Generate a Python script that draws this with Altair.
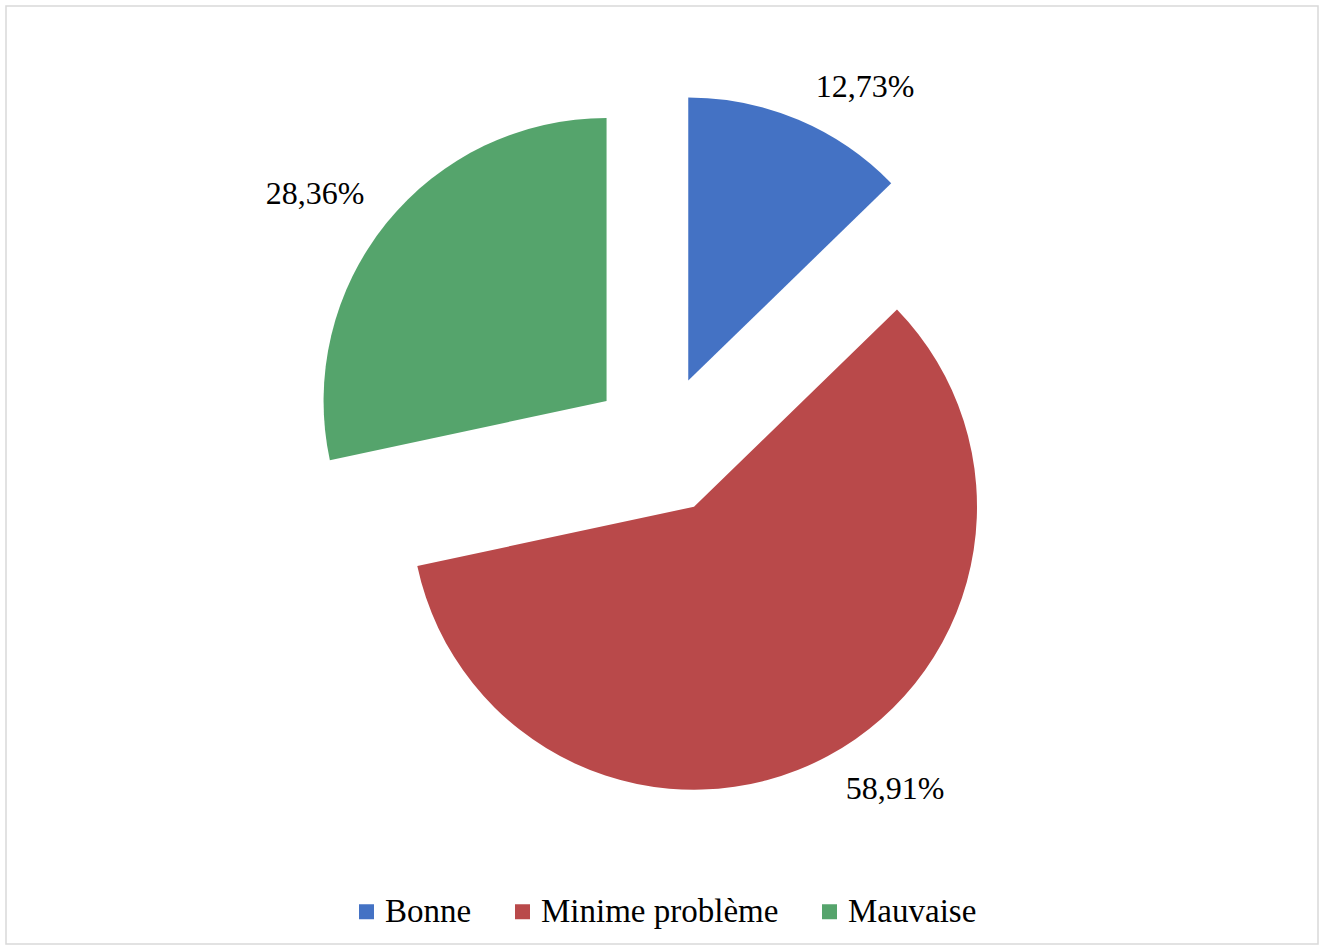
import altair as alt
import pandas as pd

categories = ["Bonne", "Minime problème", "Mauvaise"]
values = [12.73, 58.91, 28.36]
labels = ["12,73%", "58,91%", "28,36%"]
colors = ["#4472C4", "#B9494A", "#55A46C"]

df = pd.DataFrame({
    "cat": categories,
    "val": values,
    "lab": labels,
    "order": list(range(len(categories))),
})

CX, CY = 655, 439   # pie center (plot px)
D = 70              # explosion distance
R = 283             # radius
G = 12              # label gap
HW, HH = 62, 22     # half-size of label box

base = alt.Chart(df).transform_window(
    cum="sum(val)", sort=[alt.SortField("order")]
).transform_calculate(
    t1="datum.cum / 100 * 2 * PI",
    t0="(datum.cum - datum.val) / 100 * 2 * PI",
).transform_calculate(
    mid="(datum.t0 + datum.t1) / 2"
).transform_calculate(
    cx=f"{CX} + {D} * sin(datum.mid)",
    cy=f"{CY} - {D} * cos(datum.mid)",
).transform_calculate(
    lx=f"datum.cx + {R + G} * sin(datum.mid) + (sin(datum.mid) > 0 ? 1 : -1) * {HW}",
    ly=f"datum.cy - {R + G} * cos(datum.mid) - (cos(datum.mid) > 0 ? 1 : -1) * {HH}",
)

arcs = base.mark_arc(outerRadius=R, innerRadius=0).encode(
    theta=alt.Theta("t0:Q", scale=None),
    theta2="t1:Q",
    x=alt.X("cx:Q", scale=None),
    y=alt.Y("cy:Q", scale=None),
    color=alt.Color(
        "cat:N",
        scale=alt.Scale(domain=categories, range=colors),
        sort=categories,
        legend=alt.Legend(
            title=None,
            orient="none",
            direction="horizontal",
            legendX=344,
            legendY=889,
            symbolType="square",
            symbolSize=225,
            symbolStrokeWidth=0,
            labelFont="Liberation Serif",
            labelFontSize=33,
            labelColor="#000000",
            labelOffset=2,
            labelLimit=0,
            columnPadding=34,
            padding=0,
        ),
    ),
)

texts = base.mark_text(
    font="Liberation Serif", fontSize=32, color="#000000",
    align="center", baseline="middle",
).encode(
    x=alt.X("lx:Q", scale=None),
    y=alt.Y("ly:Q", scale=None),
    text="lab:N",
)

chart = alt.layer(arcs, texts).properties(
    width=1312,
    height=938,
    autosize=alt.AutoSizeParams(type="none"),
    padding={"left": 6, "top": 6, "right": 8, "bottom": 3},
    background="#ffffff",
).configure_view(
    stroke="#d9d9d9", strokeWidth=1.5
)

chart.save("out.html", embed_options={"renderer": "svg", "actions": False})
